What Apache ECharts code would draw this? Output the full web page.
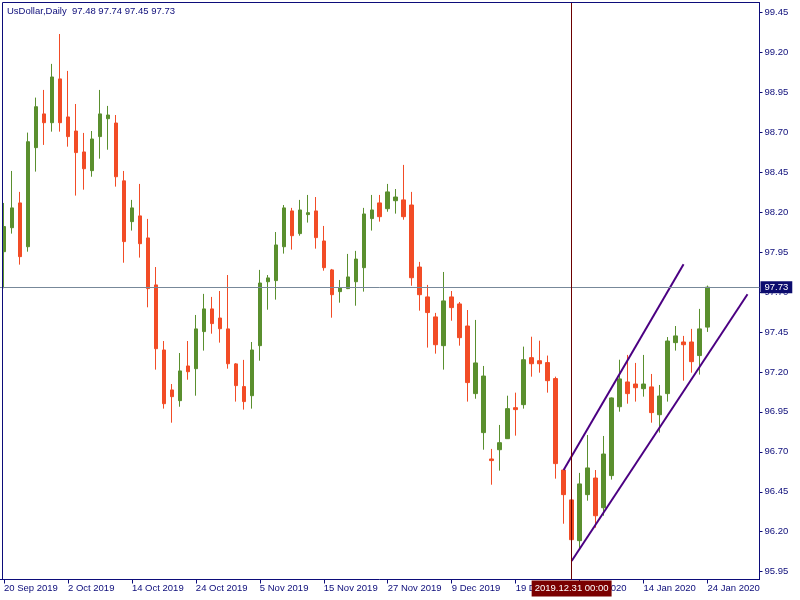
<!DOCTYPE html>
<html><head><meta charset="utf-8">
<script src="https://cdn.jsdelivr.net/npm/echarts@6/dist/echarts.min.js"></script>
<style>html,body{margin:0;padding:0;background:#fff}#c{width:800px;height:600px}</style>
</head><body><div id="c"></div>
<script>
// trading days shown on the chart (index 0..88)
const dates = [
'2019.09.20','2019.09.23','2019.09.24','2019.09.25','2019.09.26','2019.09.27','2019.09.30','2019.10.01',
'2019.10.02','2019.10.03','2019.10.04','2019.10.07','2019.10.08','2019.10.09','2019.10.10','2019.10.11',
'2019.10.14','2019.10.15','2019.10.16','2019.10.17','2019.10.18','2019.10.21','2019.10.22','2019.10.23',
'2019.10.24','2019.10.25','2019.10.28','2019.10.29','2019.10.30','2019.10.31','2019.11.01','2019.11.04',
'2019.11.05','2019.11.06','2019.11.07','2019.11.08','2019.11.11','2019.11.12','2019.11.13','2019.11.14',
'2019.11.15','2019.11.18','2019.11.19','2019.11.20','2019.11.21','2019.11.22','2019.11.25','2019.11.26',
'2019.11.27','2019.11.28','2019.11.29','2019.12.02','2019.12.03','2019.12.04','2019.12.05','2019.12.06',
'2019.12.09','2019.12.10','2019.12.11','2019.12.12','2019.12.13','2019.12.16','2019.12.17','2019.12.18',
'2019.12.19','2019.12.20','2019.12.23','2019.12.24','2019.12.26','2019.12.27','2019.12.30','2019.12.31',
'2020.01.02','2020.01.03','2020.01.06','2020.01.07','2020.01.08','2020.01.09','2020.01.10','2020.01.13',
'2020.01.14','2020.01.15','2020.01.16','2020.01.17','2020.01.20','2020.01.21','2020.01.22','2020.01.23',
'2020.01.24'];
// empty room on the right side of the chart (shift)
const futureDates = ['2020.01.27','2020.01.28','2020.01.29','2020.01.30','2020.01.31','2020.02.03'];

const opens = [97.952,98.102,98.257,97.983,98.603,98.814,98.759,99.033,98.795,98.707,98.576,98.459,98.672,98.784,98.757,98.395,
98.140,98.176,98.038,97.744,97.337,97.087,97.020,97.237,97.220,97.452,97.594,97.537,97.469,97.250,97.108,97.051,
97.364,97.764,97.771,97.983,98.207,98.065,98.184,98.207,98.019,97.838,97.702,97.721,97.764,97.852,98.159,98.257,
98.221,98.271,98.276,98.244,97.856,97.669,97.544,97.364,97.669,97.625,97.487,97.064,96.820,96.655,96.713,96.782,
96.976,96.995,97.289,97.270,97.258,97.158,96.586,96.399,96.144,96.432,96.536,96.350,96.551,96.982,97.137,97.124,
97.095,97.106,96.932,97.064,97.383,97.387,97.387,97.302,97.48];
const closes = [98.109,98.226,97.921,98.640,98.859,98.759,99.045,98.759,98.672,98.572,98.471,98.657,98.814,98.807,98.421,98.015,
98.226,98.002,97.721,97.345,97.001,97.045,97.206,97.201,97.469,97.594,97.502,97.470,97.251,97.114,97.014,97.337,
97.756,97.788,97.994,98.226,98.052,98.213,98.196,98.040,97.852,97.683,97.725,97.794,97.906,98.188,98.213,98.171,
98.326,98.294,98.171,97.789,97.683,97.571,97.370,97.644,97.602,97.414,97.133,97.256,97.174,96.645,96.757,96.970,
96.964,97.276,97.251,97.251,97.145,96.626,96.432,96.150,96.499,96.599,96.300,96.686,97.037,97.156,97.064,97.101,
97.124,96.945,97.049,97.393,97.425,97.370,97.264,97.469,97.73];
const lows = [97.723,98.065,97.871,97.952,98.453,98.620,98.703,98.703,98.609,98.303,98.340,98.421,98.534,98.590,98.359,97.883,
98.084,97.915,97.604,97.214,96.970,96.882,96.982,97.151,97.051,97.333,97.439,97.383,97.220,97.014,96.964,96.970,
97.270,97.589,97.652,97.940,97.965,98.052,98.134,97.971,97.833,97.539,97.633,97.718,97.614,97.702,98.084,98.140,
98.202,98.190,98.152,97.739,97.583,97.352,97.314,97.214,97.520,97.364,97.014,97.032,96.713,96.494,96.582,96.780,
96.801,96.970,97.170,97.195,97.070,96.532,96.250,96.013,96.088,96.394,96.225,96.300,96.526,96.951,97.001,97.014,
97.045,96.882,96.820,97.014,97.333,97.145,97.195,97.183,97.45];
const highs = [98.257,98.457,98.326,98.697,98.916,98.964,99.127,99.314,99.083,98.876,98.695,98.707,98.964,98.864,98.807,98.457,
98.276,98.376,98.157,97.856,97.393,97.124,97.318,97.393,97.556,97.688,97.669,97.706,97.806,97.255,97.275,97.387,
97.838,97.806,98.075,98.244,98.226,98.276,98.307,98.294,98.113,97.844,97.775,97.938,97.957,98.226,98.307,98.307,
98.376,98.344,98.495,98.326,97.888,97.744,97.569,97.825,97.706,97.637,97.587,97.525,97.237,96.718,96.868,97.051,
97.070,97.358,97.420,97.395,97.302,97.170,96.590,96.420,96.568,96.805,96.586,96.799,97.040,97.276,97.306,97.256,
97.306,97.187,97.118,97.418,97.487,97.425,97.469,97.594,97.74];

const yTickLabels = [95.95,96.20,96.45,96.70,96.95,97.20,97.45,97.70,97.95,98.20,98.45,98.70,98.95,99.20,99.45];
const upperChannel = [[70, 96.586], [85, 97.873]];
const lowerChannel = [[71, 96.017], [93, 97.686]];
const crossDateIndex = 71;      // 2019.12.31
const bidPrice = 97.73;
const symbolName = 'UsDollar,Daily';

const NAVY = '#0c0c7a';
const FONT = 'Liberation Sans';
const months = ['Jan','Feb','Mar','Apr','May','Jun','Jul','Aug','Sep','Oct','Nov','Dec'];
const fmtDate = s => { const p = s.split('.'); return (+p[2]) + ' ' + months[+p[1]-1] + ' ' + p[0]; };
const tickFn = i => i % 8 === 0 && i < dates.length;

const candles = dates.map((d, i) => [opens[i], closes[i], lows[i], highs[i]]);
const last = dates.length - 1;
const title = symbolName + '  ' + opens[last].toFixed(2) + ' ' + highs[last].toFixed(2) + ' ' + lows[last].toFixed(2) + ' ' + closes[last].toFixed(2);

const chart = echarts.init(document.getElementById('c'));
chart.setOption({
  animation: false,
  backgroundColor: '#ffffff',
  title: { text: title, left: 7, top: 6, padding: 0, textStyle: { fontFamily: FONT, fontSize: 9.5, fontWeight: 'normal', color: NAVY } },
  axisPointer: { triggerOn: 'none' },
  grid: { left: -0.5, top: 2.5, width: 760, height: 577, show: false },
  xAxis: {
    type: 'category',
    data: dates.concat(futureDates),
    boundaryGap: true,
    axisLine: { show: true, lineStyle: { color: NAVY, width: 1 } },
    axisTick: { show: true, alignWithLabel: true, interval: tickFn, length: 4, lineStyle: { color: NAVY } },
    axisLabel: { show: true, interval: tickFn, align: 'left', margin: 4, formatter: fmtDate, color: NAVY, fontFamily: FONT, fontSize: 9.5 },
    splitLine: { show: false },
    axisPointer: {
      show: true, status: 'show', value: crossDateIndex, snap: false, triggerTooltip: false,
      lineStyle: { color: '#6b0000', width: 1, type: 'solid' },
      label: { show: true, formatter: () => dates[crossDateIndex] + ' 00:00', backgroundColor: '#7a0000', color: '#ffffff',
               padding: [3, 3], margin: 1, fontFamily: FONT, fontSize: 9.5, borderRadius: 0, shadowBlur: 0 }
    }
  },
  yAxis: {
    type: 'value', position: 'right', min: 95.901, max: 99.511,
    axisLine: { show: true, lineStyle: { color: NAVY, width: 1 } },
    axisTick: { show: true, customValues: yTickLabels, length: 3, lineStyle: { color: NAVY } },
    axisLabel: { show: true, customValues: yTickLabels, formatter: v => v.toFixed(2), margin: 5, color: NAVY, fontFamily: FONT, fontSize: 9.5 },
    splitLine: { show: false },
    axisPointer: {
      show: true, status: 'show', value: bidPrice, snap: false, triggerTooltip: false,
      lineStyle: { color: '#778899', width: 1, type: 'solid' },
      label: { show: true, formatter: () => bidPrice.toFixed(2), backgroundColor: '#0c0c6e', color: '#ffffff',
               padding: [1, 4], margin: 1, fontFamily: FONT, fontSize: 9.5, borderRadius: 0, shadowBlur: 0 }
    }
  },
  series: [
    {
      type: 'candlestick', data: candles, barWidth: 4,
      itemStyle: { color: '#5a8f2e', color0: '#f24c26', borderColor: '#5a8f2e', borderColor0: '#f24c26', borderWidth: 1 }
    },
    { type: 'line', data: upperChannel, symbol: 'none', lineStyle: { color: '#4b0082', width: 2 }, z: 5 },
    { type: 'line', data: lowerChannel, symbol: 'none', lineStyle: { color: '#4b0082', width: 2 }, z: 5 }
  ],
  graphic: [{
    type: 'polyline', z: 100, silent: true,
    shape: { points: [[2.5, 579.5], [2.5, 2.5], [759.5, 2.5]] },
    style: { stroke: NAVY, lineWidth: 1, fill: null }
  }]
});
</script>
</body></html>
